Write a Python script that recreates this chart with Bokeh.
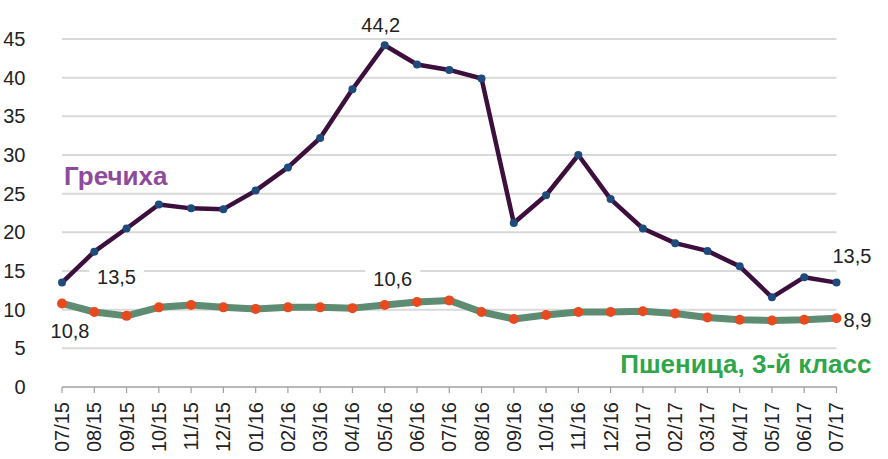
import math
from bokeh.plotting import figure
from bokeh.models import Range1d, FixedTicker
from bokeh.core.properties import value
from bokeh.embed import file_html
from bokeh.resources import INLINE

months = ["07/15", "08/15", "09/15", "10/15", "11/15", "12/15",
          "01/16", "02/16", "03/16", "04/16", "05/16", "06/16",
          "07/16", "08/16", "09/16", "10/16", "11/16", "12/16",
          "01/17", "02/17", "03/17", "04/17", "05/17", "06/17", "07/17"]

buckwheat = [13.5, 17.5, 20.5, 23.6, 23.1, 23.0, 25.4, 28.4, 32.2, 38.5,
             44.2, 41.7, 41.0, 39.9, 21.2, 24.8, 30.0, 24.3, 20.5, 18.6,
             17.6, 15.6, 11.6, 14.2, 13.5]

wheat = [10.8, 9.7, 9.2, 10.3, 10.6, 10.3, 10.1, 10.3, 10.3, 10.2,
         10.6, 11.0, 11.2, 9.7, 8.8, 9.3, 9.7, 9.7, 9.8, 9.5,
         9.0, 8.7, 8.6, 8.7, 8.9]

y_ticks = [0, 5, 10, 15, 20, 25, 30, 35, 40, 45]

name_buckwheat = "Гречиха"
name_wheat = "Пшеница, 3-й класс"

FONT = "Liberation Sans"
n = len(months)
xs = list(range(n))

H = 451
Y0, Y1 = -8.34, 49.98
p = figure(width=872, height=H, output_backend="svg", toolbar_location=None,
           x_range=Range1d(-0.729, 25.116), y_range=Range1d(Y0, Y1),
           x_axis_location=None,
           min_border_left=32, min_border_right=0, min_border_top=0,
           min_border_bottom=0)
p.outline_line_color = None
p.background_fill_color = "white"
p.border_fill_color = "white"
p.xgrid.visible = False
p.ygrid.visible = False

# y axis
p.yaxis.ticker = FixedTicker(ticks=y_ticks)
p.yaxis.axis_line_color = None
p.yaxis.major_tick_line_color = None
p.yaxis.minor_tick_line_color = None
p.yaxis.major_label_standoff = 7
p.yaxis.major_label_text_font = FONT
p.yaxis.major_label_text_font_size = "20px"
p.yaxis.major_label_text_color = "#222222"

# grid lines (from first to last category)
grid_vals = y_ticks[1:]
p.segment(x0=[xs[0]] * len(grid_vals), x1=[xs[-1]] * len(grid_vals),
          y0=grid_vals, y1=grid_vals, line_color="#d9d9d9", line_width=2)

# category axis at y = 0: line, ticks, rotated labels
px_per_unit = H / (Y1 - Y0)
tick_len = 6 / px_per_unit
base = y_ticks[0]
p.segment(x0=[xs[0]], x1=[xs[-1]], y0=[base], y1=[base],
          line_color="#a0a0a0", line_width=1.5)
p.segment(x0=xs, x1=xs, y0=[base] * n, y1=[base - tick_len] * n,
          line_color="#a0a0a0", line_width=1.2)
p.text(x=xs, y=[base] * n, text=months, angle=math.pi / 2, y_offset=15,
       text_align="right", text_baseline="middle", text_font=value(FONT),
       text_font_size="20px", text_color="#222222")


def fmt(v):
    return f"{v:.1f}".replace(".", ",")


def lab(i, series, dx, dy, align, bg=False):
    kw = dict(x=[xs[i]], y=[series[i]], text=[fmt(series[i])],
              x_offset=dx, y_offset=dy, text_align=align, text_baseline="middle",
              text_font=value(FONT), text_font_size="20px", text_color="#222222")
    if bg:
        kw.update(background_fill_color="white", padding=8)
    p.text(**kw)


lab(10, buckwheat, -4, -20, "center")
lab(0, buckwheat, 27, -6, "left", bg=True)
lab(0, wheat, 8, 28, "center")
lab(10, wheat, 8, -26, "center", bg=True)
lab(n - 1, buckwheat, -4, -27, "left")
lab(n - 1, wheat, 7, 2, "left")

# series names
p.text(x=[xs[0]], y=[buckwheat[0]], text=[name_buckwheat], x_offset=2, y_offset=-107,
       text_align="left", text_baseline="middle", text_font=value(FONT),
       text_font_size="26px", text_font_style="bold", text_color="#8e4b9c")
p.text(x=[xs[-1]], y=[wheat[-1]], text=[name_wheat], x_offset=35, y_offset=46,
       text_align="right", text_baseline="middle", text_font=value(FONT),
       text_font_size="26px", text_font_style="bold", text_color="#30a64a")

# series
p.line(xs, wheat, line_color="#5e8c72", line_width=7, line_join="round")
p.scatter(xs, wheat, size=10, fill_color="#e84a1f", line_color=None)
p.line(xs, buckwheat, line_color="#3d0f3d", line_width=4.5, line_join="round")
p.scatter(xs, buckwheat, size=8, fill_color="#1f4a7c", line_color=None)

open("out.html", "w").write(file_html(p, INLINE))
